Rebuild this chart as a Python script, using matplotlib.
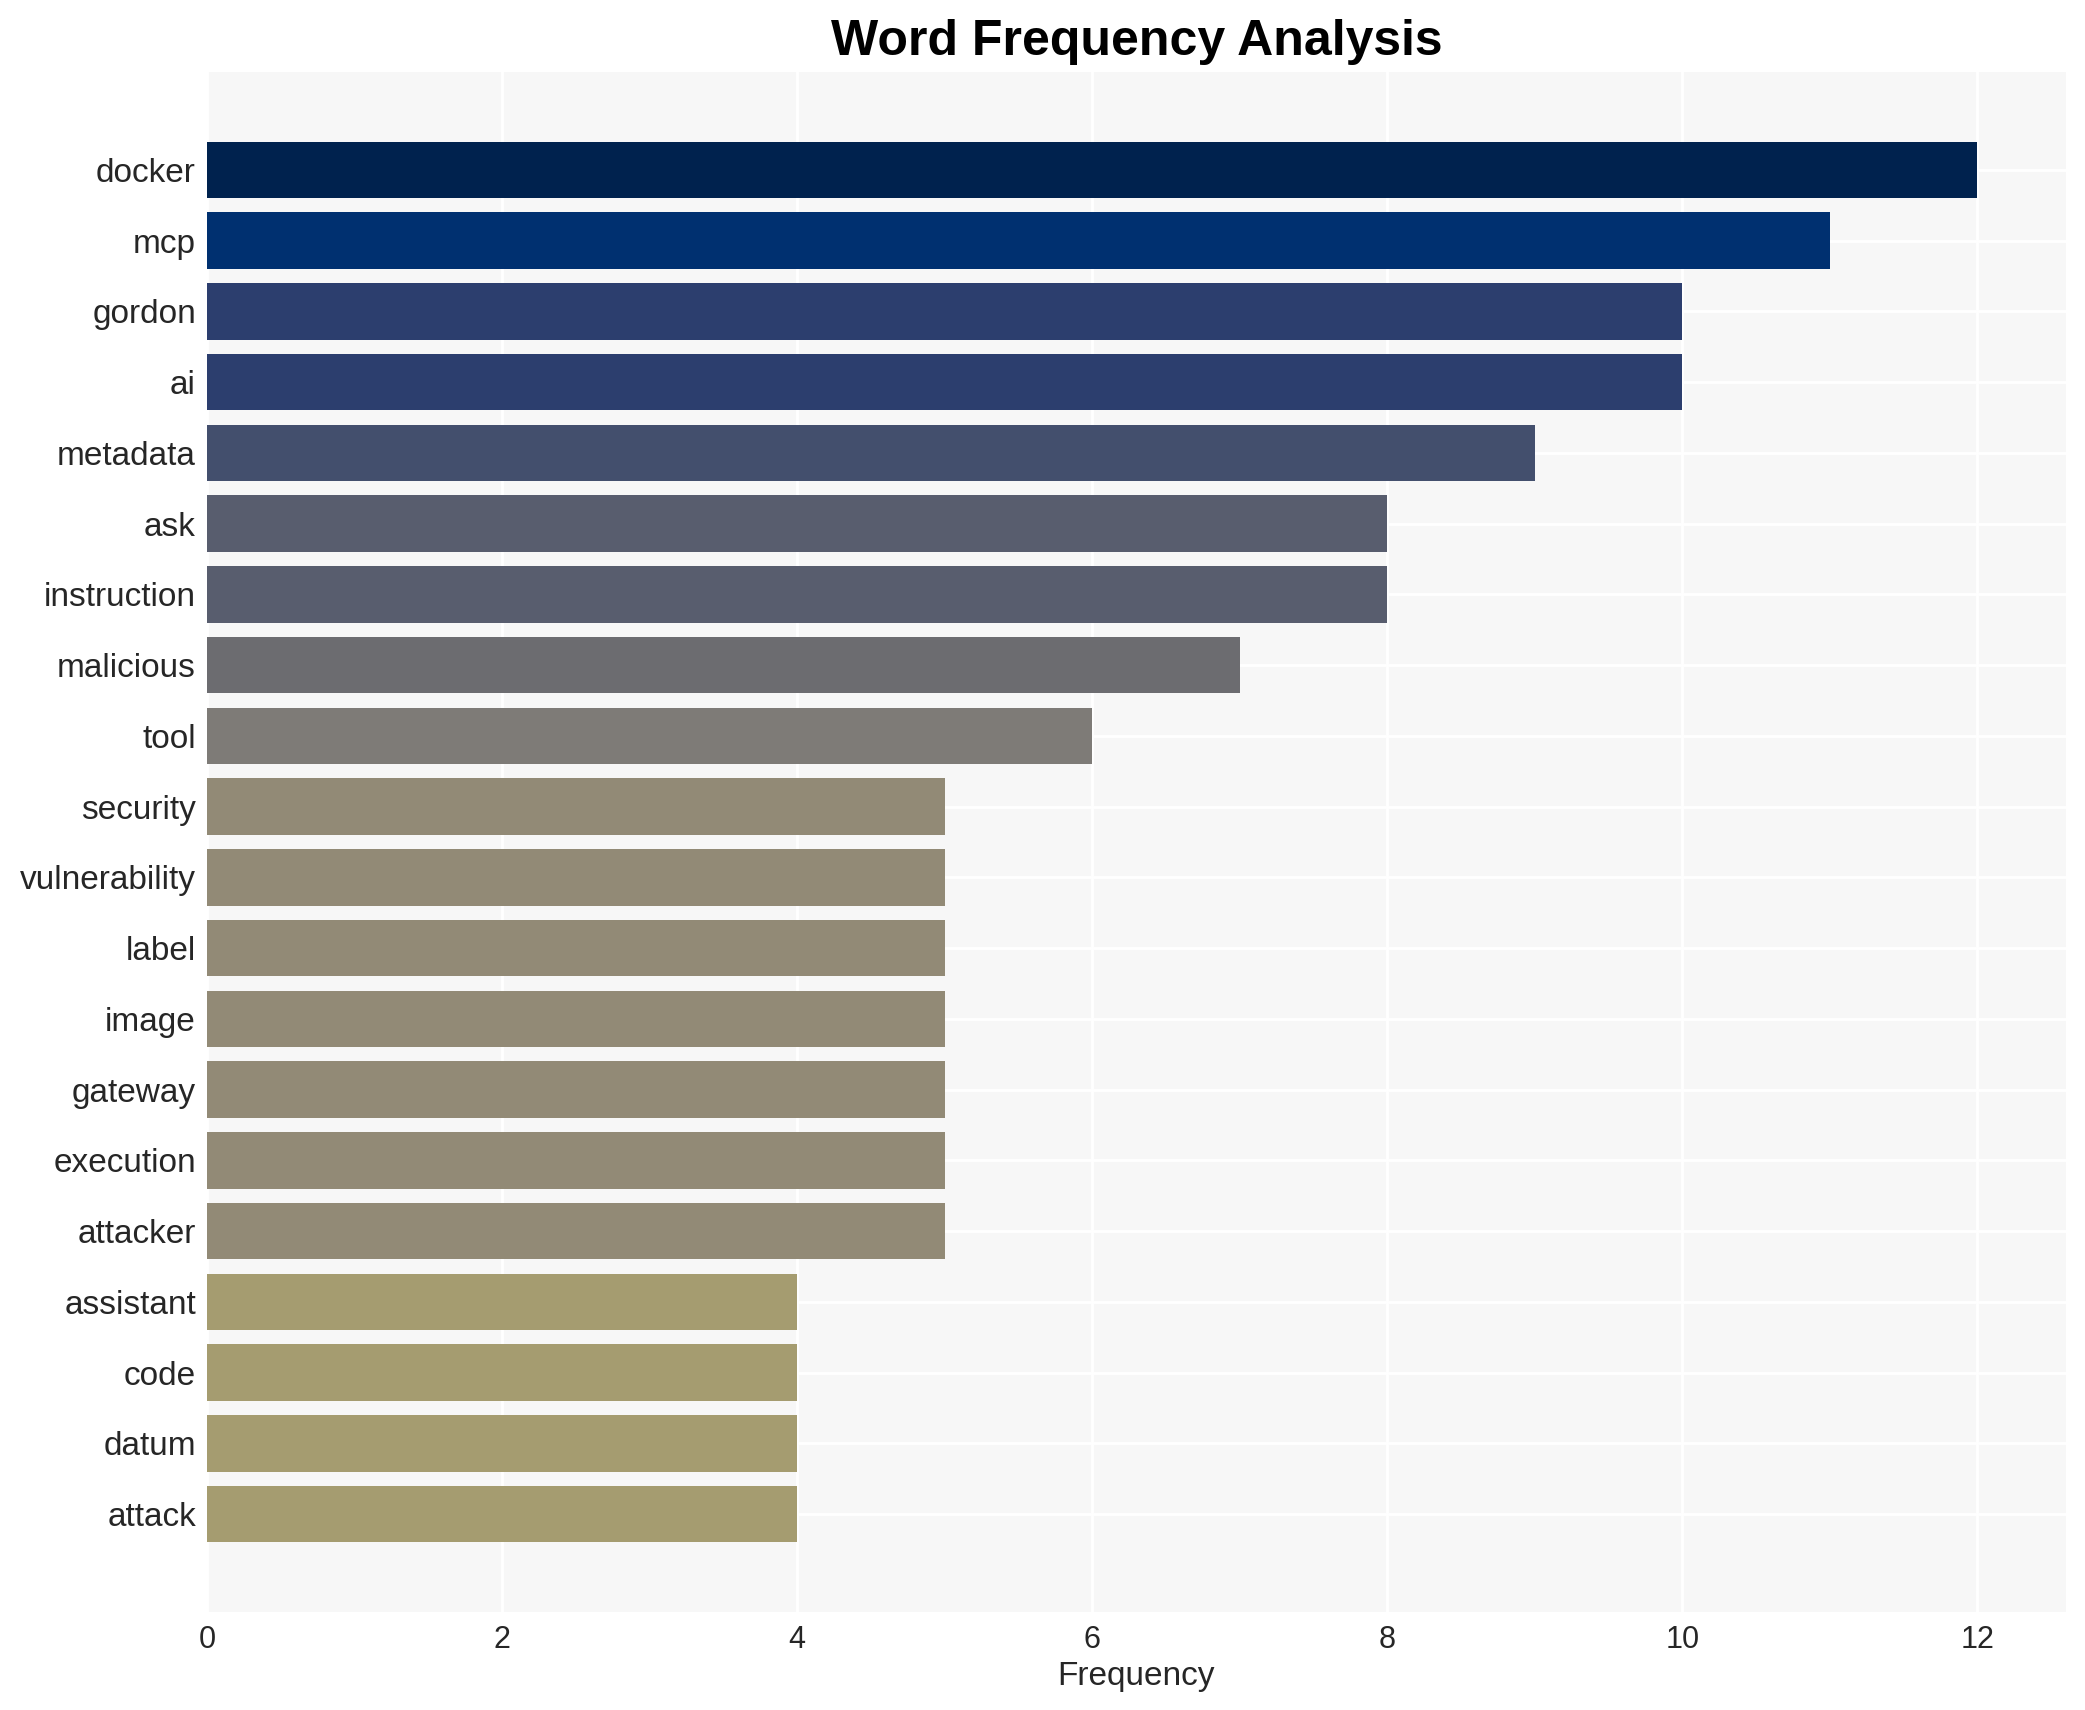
import matplotlib
matplotlib.use("Agg")
import matplotlib.pyplot as plt

plt.rcParams['font.family'] = ['Liberation Sans', 'DejaVu Sans']

# ---data---------------------------------
words = ["docker", "mcp", "gordon", "ai", "metadata", "ask", "instruction",
         "malicious", "tool", "security", "vulnerability", "label", "image",
         "gateway", "execution", "attacker", "assistant", "code", "datum", "attack"]
counts = [12, 11, 10, 10, 9, 8, 8, 7, 6, 5, 5, 5, 5, 5, 5, 5, 4, 4, 4, 4]

# colour per frequency value (cividis-like shades)
shade = {12: "#00224e", 11: "#003070", 10: "#2c3e6e", 9: "#434f6d",
         8: "#585d6e", 7: "#6c6c70", 6: "#7e7b77", 5: "#928a76", 4: "#a59c70"}
colors = [shade[c] for c in counts]

W, H = 2085, 1710
fig = plt.figure(figsize=(W / 200, H / 200), dpi=200)
# axes box in pixels: left 207, right 2066, top 72, bottom 1612
ax = fig.add_axes([207 / W, 1 - 1612 / H, (2066 - 207) / W, (1612 - 72) / H])
ax.set_facecolor("#f7f7f7")

ypos = list(range(len(words)))
ax.barh(ypos, counts, height=0.8, color=colors, zorder=2)
ax.set_yticks(ypos)
ax.set_yticklabels(words, fontsize=12, color="#262626")
ax.set_ylim(len(words) - 1 + 1.385, -1.385)
ax.set_xlim(0, 12.6)
ax.set_xticks(range(0, 13, 2))
ax.tick_params(axis='x', labelsize=11, colors="#262626", length=0, pad=4.5)
ax.tick_params(axis='y', length=0, pad=4)

ax.grid(True, color="white", linewidth=1.0, zorder=0)
ax.set_axisbelow(True)
for s in ax.spines.values():
    s.set_visible(False)

ax.set_xlabel("Frequency", fontsize=12, color="#262626", labelpad=2.5)
ax.set_title("Word Frequency Analysis", fontsize=18, fontweight="bold", pad=6)

fig.savefig("out.png", dpi=200, facecolor="white")
